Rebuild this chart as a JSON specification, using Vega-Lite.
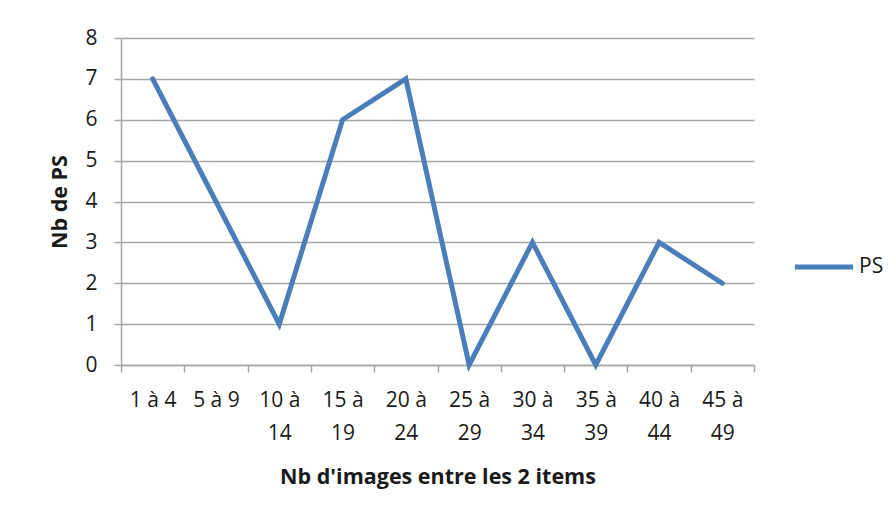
{
  "$schema": "https://vega.github.io/schema/vega-lite/v6.json",
  "width": 633,
  "height": 327,
  "autosize": {"type": "none"},
  "padding": {"left": 121, "top": 38, "right": 141, "bottom": 153},
  "background": "white",
  "config": {
    "font": "Open Sans",
    "view": {"stroke": null},
    "axis": {
      "labelColor": "#1a1a1a",
      "titleColor": "#1a1a1a",
      "domainColor": "#A6A6A6",
      "tickColor": "#A6A6A6",
      "gridColor": "#A6A6A6",
      "domainWidth": 1.5,
      "tickWidth": 1.5,
      "gridWidth": 1.5,
      "tickSize": 7
    }
  },
  "data": {
    "values": [
      {"cat": "1 à 4", "value": 7, "serie": "PS"},
      {"cat": "5 à 9", "value": 4, "serie": "PS"},
      {"cat": "10 à 14", "value": 1, "serie": "PS"},
      {"cat": "15 à 19", "value": 6, "serie": "PS"},
      {"cat": "20 à 24", "value": 7, "serie": "PS"},
      {"cat": "25 à 29", "value": 0, "serie": "PS"},
      {"cat": "30 à 34", "value": 3, "serie": "PS"},
      {"cat": "35 à 39", "value": 0, "serie": "PS"},
      {"cat": "40 à 44", "value": 3, "serie": "PS"},
      {"cat": "45 à 49", "value": 2, "serie": "PS"}
    ]
  },
  "mark": {"type": "line", "strokeWidth": 5, "strokeCap": "round", "strokeJoin": "miter"},
  "encoding": {
    "x": {
      "field": "cat",
      "type": "ordinal",
      "sort": null,
      "scale": {"type": "band", "paddingInner": 0, "paddingOuter": 0},
      "axis": {
        "title": "Nb d'images entre les 2 items",
        "labelFont": "Open Sans",
        "labelFontSize": 21,
        "titleFont": "Open Sans",
        "titleFontSize": 21.5,
        "titleFontWeight": "bold",
        "labelAngle": 0,
        "tickBand": "extent",
        "labelPadding": 17,
        "labelLineHeight": 33,
        "labelExpr": "indexof(datum.label, ' à ') > 1 ? [slice(datum.label, 0, indexof(datum.label, ' à ') + 2), slice(datum.label, indexof(datum.label, ' à ') + 3)] : datum.label",
        "titleBaseline": "alphabetic",
        "titleY": 118,
        "grid": false
      }
    },
    "y": {
      "field": "value",
      "type": "quantitative",
      "scale": {"domain": [0, 8]},
      "axis": {
        "title": "Nb de PS",
        "labelFont": "Open Sans",
        "labelFontSize": 21,
        "titleFont": "Open Sans",
        "titleFontSize": 21.5,
        "titleFontWeight": "bold",
        "values": [0, 1, 2, 3, 4, 5, 6, 7, 8],
        "grid": true,
        "labelPadding": 17,
        "titleAngle": -90,
        "titleBaseline": "alphabetic",
        "titleAlign": "center",
        "titleX": -55,
        "titleY": 163.5
      }
    },
    "color": {
      "field": "serie",
      "type": "nominal",
      "scale": {"range": ["#4A7EBB"]},
      "legend": {
        "title": null,
        "orient": "none",
        "legendX": 671,
        "legendY": 197,
        "symbolType": "stroke",
        "symbolSize": 3400,
        "symbolStrokeWidth": 5,
        "labelFont": "Open Sans",
        "labelFontSize": 21,
        "labelColor": "#1a1a1a",
        "labelOffset": 3
      }
    }
  }
}
